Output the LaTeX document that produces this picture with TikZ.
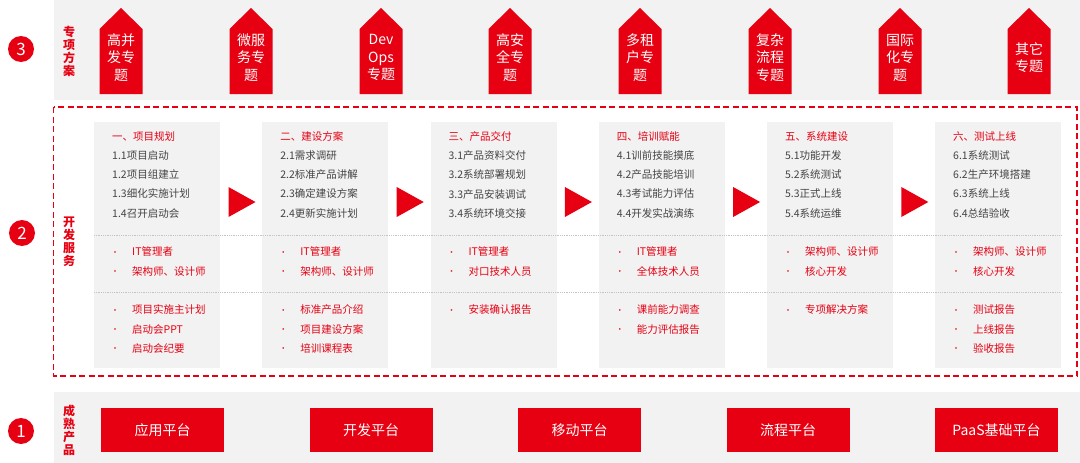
\documentclass[tikz,border=0pt]{standalone}
\usepackage{fontspec}
\setmainfont{Noto Sans CJK SC}
\usetikzlibrary{positioning,calc}
\definecolor{brand}{RGB}{230,0,18}
\definecolor{paper}{RGB}{242,242,242}
\definecolor{ink}{RGB}{68,68,68}
\definecolor{rule}{RGB}{196,196,196}
\newcommand{\dotitem}[1]{\makebox[21pt][l]{\raisebox{0.6pt}{\fontsize{8}{8}\selectfont•}}#1}
\tikzset{
  band/.style={fill=paper},
  badge/.style={circle,fill=brand,text=white,minimum size=26,inner sep=0,
    font=\fontsize{17}{17}\selectfont},
  side/.style={text=brand,align=center,inner sep=0,
    font=\fontsize{12}{13}\selectfont\bfseries},
  tagtext/.style={text=white,align=center,inner sep=0,
    font=\fontsize{14}{17.5}\selectfont},
  stage/.style={fill=paper,minimum width=126,minimum height=246,inner sep=0,anchor=north west},
  steps/.style={anchor=north west,align=left,inner sep=0,text=ink,
    font=\fontsize{10.5}{19.3}\selectfont},
  items/.style={steps,text=brand},
  sepline/.style={draw=rule,densely dotted,line width=0.8pt},
  product/.style={fill=brand,text=white,minimum width=123,minimum height=44,inner sep=0,
    font=\fontsize{14}{14}\selectfont},
}
\begin{document}
\begin{tikzpicture}[x=1pt,y=-1pt]
  \useasboundingbox (0,0) rectangle (1080,463);
  % bands
  \fill[band] (54,0) rectangle (1080,100);
  \fill[band] (54,392) rectangle (1080,463);
  \draw[brand,line width=1.3pt,dash pattern=on 6pt off 3.5pt] (53.5,107) rectangle (1077,376);
  % badges and side labels
  \node[badge] (n3) at (21,49) {3};
  \node[badge] (n2) at (22,233) {2};
  \node[badge] (n1) at (21,431) {1};
  \node[side] (s3) at (69,51) {专\\项\\方\\案};
  \node[side] (s2) at (69,242) {开\\发\\服\\务};
  \node[side] (s1) at (69,430) {成\\熟\\产\\品};
  % special topics
  \foreach \cx/\txt [count=\k] in {121/{高并\\发专\\题},251/{微服\\务专\\题},381/{Dev\\Ops\\专题},%
      510/{高安\\全专\\题},640/{多租\\户专\\题},770/{复杂\\流程\\专题},900/{国际\\化专\\题},1029/{其它\\专题}}{
    \fill[brand] (\cx-21.5,94) -- (\cx-21.5,29) -- (\cx,8) -- (\cx+21.5,29) -- (\cx+21.5,94) -- cycle;
    \node[tagtext] (tag\k) at (\cx,57.5) {\txt};
  }
  % service stages
  \foreach \i/\ttl/\stp/\who/\dcs in {%
    1/{一、项目规划}/{1.1项目启动\\1.2项目组建立\\1.3细化实施计划\\1.4召开启动会}%
      /{\dotitem{IT管理者}\\\dotitem{架构师、设计师}}%
      /{\dotitem{项目实施主计划}\\\dotitem{启动会PPT}\\\dotitem{启动会纪要}},%
    2/{二、建设方案}/{2.1需求调研\\2.2标准产品讲解\\2.3确定建设方案\\2.4更新实施计划}%
      /{\dotitem{IT管理者}\\\dotitem{架构师、设计师}}%
      /{\dotitem{标准产品介绍}\\\dotitem{项目建设方案}\\\dotitem{培训课程表}},%
    3/{三、产品交付}/{3.1产品资料交付\\3.2系统部署规划\\3.3产品安装调试\\3.4系统环境交接}%
      /{\dotitem{IT管理者}\\\dotitem{对口技术人员}}%
      /{\dotitem{安装确认报告}},%
    4/{四、培训赋能}/{4.1训前技能摸底\\4.2产品技能培训\\4.3考试能力评估\\4.4开发实战演练}%
      /{\dotitem{IT管理者}\\\dotitem{全体技术人员}}%
      /{\dotitem{课前能力调查}\\\dotitem{能力评估报告}},%
    5/{五、系统建设}/{5.1功能开发\\5.2系统测试\\5.3正式上线\\5.4系统运维}%
      /{\dotitem{架构师、设计师}\\\dotitem{核心开发}}%
      /{\dotitem{专项解决方案}},%
    6/{六、测试上线}/{6.1系统测试\\6.2生产环境搭建\\6.3系统上线\\6.4总结验收}%
      /{\dotitem{架构师、设计师}\\\dotitem{核心开发}}%
      /{\dotitem{测试报告}\\\dotitem{上线报告}\\\dotitem{验收报告}}}{
    \node[stage] (c\i) at ({94+168.2*(\i-1)},122) {};
    \node[steps] (st\i) at ($(c\i.north west)+(18,9)$) {{\color{brand}\ttl}\\\stp};
    \node[items] (wh\i) at ($(c\i.north west)+(17,124.8)$) {\who};
    \node[items] (dc\i) at ($(c\i.north west)+(17,182.8)$) {\dcs};
  }
  \foreach \i in {1,...,5}{
    \fill[brand] ({228.5+168.2*(\i-1)},187) -- ++(27,15) -- ++(-27,15) -- cycle;
  }
  \draw[sepline] (c1.north west |- 0,235) -- (c6.north east |- 0,235);
  \draw[sepline] (c1.north west |- 0,292) -- (c6.north east |- 0,292);
  % mature products
  \foreach \txt [count=\k] in {应用平台,开发平台,移动平台,流程平台,PaaS基础平台}{
    \node[product] (p\k) at ({162.5+208.5*(\k-1)},430) {\txt};
  }
\end{tikzpicture}
\end{document}
